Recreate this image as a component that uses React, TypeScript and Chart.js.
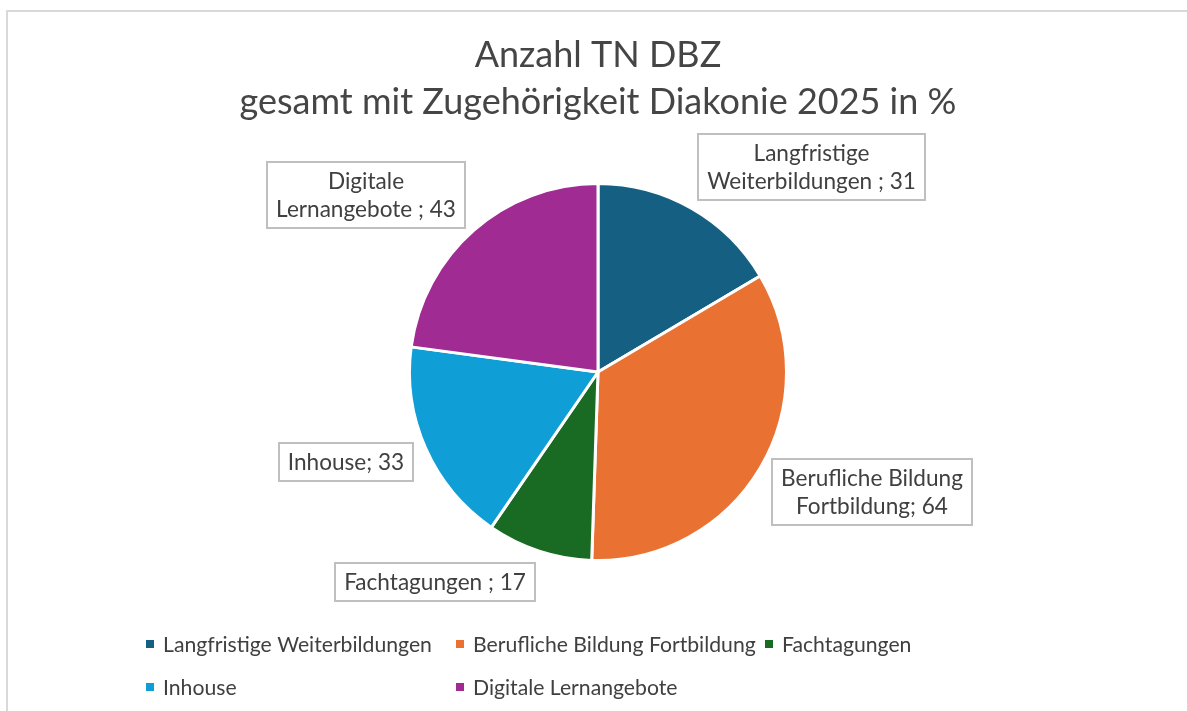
import { useEffect, useRef } from "react";
import { Chart, registerables } from "chart.js";

Chart.register(...registerables);

const categories = [
  "Langfristige Weiterbildungen",
  "Berufliche Bildung Fortbildung",
  "Fachtagungen",
  "Inhouse",
  "Digitale Lernangebote",
];
const values = [31, 64, 17, 33, 43];
const colors = ["#156082", "#E97132", "#196B24", "#0F9ED5", "#A02B93"];
const labelLines = [
  ["Langfristige", "Weiterbildungen"],
  ["Berufliche Bildung", "Fortbildung"],
  ["Fachtagungen"],
  ["Inhouse"],
  ["Digitale", "Lernangebote"],
];
const labelSeparators = [" ; ", "; ", " ; ", "; ", " ; "];
const titleLines = ["Anzahl TN DBZ", "gesamt mit Zugehörigkeit Diakonie 2025 in %"];

const FONT = "Lato, 'Open Sans', sans-serif";
const TEXT = "#404040";

export default function App() {
  const ref = useRef<HTMLCanvasElement>(null);
  useEffect(() => {
    const overlay = {
      id: "overlay",
      afterDraw(chart: any) {
        const ctx = chart.ctx as CanvasRenderingContext2D;
        ctx.save();
        // title
        ctx.fillStyle = "#454545";
        ctx.font = `36px ${FONT}`;
        ctx.textAlign = "center";
        ctx.textBaseline = "middle";
        titleLines.forEach((t, i) => ctx.fillText(t, 598, 55 + i * 47));

        // data labels
        const meta = chart.getDatasetMeta(0);
        ctx.font = `22.6px ${FONT}`;
        const lh = 28;
        const padX = 9;
        const padY = 5;
        meta.data.forEach((arc: any, i: number) => {
          const mid = (arc.startAngle + arc.endAngle) / 2;
          const dx = Math.cos(mid);
          const dy = Math.sin(mid);
          const r = arc.outerRadius + 14;
          const ax = arc.x + dx * r;
          const ay = arc.y + dy * r;
          const lines = labelLines[i].slice();
          lines[lines.length - 1] += labelSeparators[i] + values[i];
          const tw = Math.max(...lines.map((l) => ctx.measureText(l).width));
          const w = Math.round(tw + padX * 2);
          const h = lines.length * lh + padY * 2;
          const cx = ax + Math.sign(dx) * w / 2;
          const cy = ay + dy * h / 2;
          const x0 = Math.round(cx - w / 2);
          const y0 = Math.round(cy - h / 2);
          ctx.fillStyle = "#ffffff";
          ctx.fillRect(x0, y0, w, h);
          ctx.strokeStyle = "#bfbfbf";
          ctx.lineWidth = 2;
          ctx.strokeRect(x0, y0, w, h);
          ctx.fillStyle = TEXT;
          ctx.textAlign = "center";
          ctx.textBaseline = "middle";
          lines.forEach((l, j) =>
            ctx.fillText(l, x0 + w / 2, y0 + padY + lh / 2 + j * lh + 1)
          );
        });

        // legend (grid)
        ctx.font = `21.2px ${FONT}`;
        ctx.textAlign = "left";
        ctx.textBaseline = "middle";
        const box = 8;
        const gap = 9;
        const itemW = categories.map((c) => box + gap + ctx.measureText(c).width);
        const colW = Math.max(...itemW) + 10;
        const cols = 3;
        const startX = Math.round(598 - (cols * colW) / 2 + 13);
        categories.forEach((c, i) => {
          const col = i % cols;
          const row = Math.floor(i / cols);
          const x = Math.round(startX + col * colW);
          const y = 645 + row * 43;
          ctx.fillStyle = colors[i];
          ctx.fillRect(x, y - box / 2 - 1, box, box);
          ctx.fillStyle = TEXT;
          ctx.fillText(c, x + box + gap, y);
        });
        ctx.restore();
      },
    };
    const chart = new Chart(ref.current as HTMLCanvasElement, {
      type: "pie",
      data: {
        labels: categories,
        datasets: [
          {
            data: values,
            backgroundColor: colors,
            borderColor: "#ffffff",
            borderWidth: 3,
          },
        ],
      },
      options: {
        responsive: false,
        animation: false,
        layout: { padding: { left: 408, right: 399, top: 182, bottom: 149 } },
        plugins: {
          legend: { display: false },
          title: { display: false },
          tooltip: { enabled: false },
        },
      },
      plugins: [overlay],
    });
    return () => chart.destroy();
  }, []);
  return (
    <div style={{ position: "fixed", left: 0, top: 0, width: 1187, height: 711, background: "#fff" }}>
      <div
        style={{
          position: "absolute",
          left: 6,
          top: 10,
          width: 1200,
          height: 720,
          borderTop: "2px solid #d9d9d9",
          borderLeft: "2px solid #d9d9d9",
        }}
      />
      <canvas ref={ref} width={1187} height={711} style={{ position: "absolute", left: 0, top: 0 }} />
    </div>
  );
}
